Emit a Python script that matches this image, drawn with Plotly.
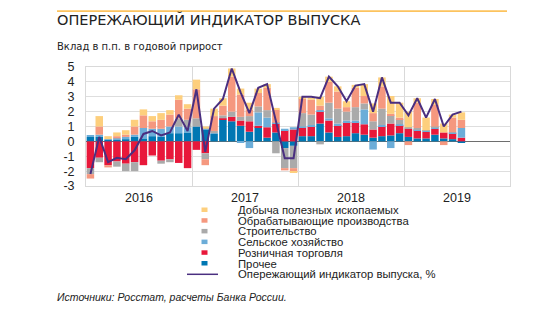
import plotly.graph_objects as go

# ---------------- data ----------------
months = ["2016-01","2016-02","2016-03","2016-04","2016-05","2016-06","2016-07","2016-08","2016-09","2016-10","2016-11","2016-12",
          "2017-01","2017-02","2017-03","2017-04","2017-05","2017-06","2017-07","2017-08","2017-09","2017-10","2017-11","2017-12",
          "2018-01","2018-02","2018-03","2018-04","2018-05","2018-06","2018-07","2018-08","2018-09","2018-10","2018-11","2018-12",
          "2019-01","2019-02","2019-03","2019-04","2019-05","2019-06","2019-07"]

prochee = [0.3,0.3,0.1,0.1,0.15,0.3,0.2,0.35,0.3,0.55,0.55,0.6,
           1.0,0.8,0.5,1.45,1.35,1.05,0.65,0.95,0.25,0.6,-0.45,-0.3,
           0.35,0.35,1.2,0.6,0.3,0.35,0.55,0.45,0.25,0.35,0.4,0.55,
           0.3,0.2,0.2,0.45,0.2,0.15,-0.05]
retail = [-1.8,-1.1,-1.6,-1.35,-1.5,-1.4,-1.6,-0.95,-1.3,-1.2,-1.45,-1.8,
          -0.57,-0.8,0.0,0.1,0.3,0.35,0.7,0.1,0.7,0.6,0.75,0.8,
          0.6,0.65,0.8,0.8,0.8,0.95,0.75,0.7,0.55,0.65,0.8,0.55,
          0.55,0.55,0.45,0.4,0.4,0.4,0.25]
agri = [0.07,0.15,0.05,0.1,0.15,0.15,0.7,0.5,0.55,0.45,0.45,0.35,
        0.0,0.05,0.05,0.0,0.0,-0.1,-0.45,0.9,0.65,0.05,0.1,0.15,
        0.05,0.1,0.1,0.15,0.1,0.1,0.1,1.0,-0.55,0.1,-0.45,0.05,
        0.0,0.05,0.05,0.05,0.0,0.05,0.65]
constr = [-0.4,-0.3,0.0,-0.35,-0.5,-0.6,0.0,0.0,-0.2,-0.2,0.55,0.5,
          0.55,-0.4,0.15,0.2,0.35,0.25,0.35,0.4,0.5,-0.8,-1.35,-1.5,
          0.9,0.7,-0.2,1.05,1.0,0.6,0.9,0.4,0.55,1.1,0.55,0.35,
          0.1,0.1,0.05,0.1,0.0,0.0,0.0]
manuf = [-0.3,0.55,-0.15,0.15,0.15,0.55,0.85,0.5,0.6,0.8,1.25,0.75,
         1.95,-0.4,1.0,0.65,2.35,1.5,0.45,0.9,1.5,0.9,-0.15,-0.25,
         1.0,1.0,0.3,1.4,1.15,0.3,1.3,0.5,0.55,1.5,0.1,0.1,
         -0.25,1.7,0.0,1.45,-0.25,1.0,0.55]
mining = [0.0,0.7,0.2,0.25,0.3,0.45,0.4,0.35,0.45,0.3,0.3,0.3,
          0.65,0.15,0.5,0.5,0.55,0.4,0.45,0.3,0.25,0.1,0.0,-0.05,
          0.1,0.15,0.6,0.35,0.35,0.4,0.2,0.8,0.65,0.6,1.2,1.0,
          1.05,0.3,0.85,0.4,0.6,0.2,0.5]
indicator = [-2.2,0.3,-1.4,-1.1,-1.2,-0.6,0.5,0.7,0.4,0.6,1.8,0.7,
             3.5,-0.7,2.2,2.85,4.9,3.3,1.9,3.6,3.85,1.45,-1.13,-1.13,
             3.0,3.0,2.9,4.35,3.7,2.7,3.75,3.85,2.0,4.3,2.6,2.6,
             1.75,2.9,1.6,2.85,1.0,1.8,2.0]

year_labels = ["2016", "2017", "2018", "2019"]
y_ticks = [5, 4, 3, 2, 1, 0, -1, -2, -3]
y_tick_labels = ["5", "4", "3", "2", "1", "0", "-1", "-2", "-3"]

series_names = ["Прочее", "Розничная торговля", "Сельское хозяйство",
                "Строительство", "Обрабатывающие производства", "Добыча полезных ископаемых"]
line_name = "Опережающий индикатор выпуска, %"
title_text = "ОПЕРЕЖАЮЩИЙ ИНДИКАТОР ВЫПУСКА"
subtitle_text = "Вклад в п.п. в годовой прирост"
source_text = "Источники: Росстат, расчеты Банка России."

# ---------------- styling ----------------
colors = ["#0077B3", "#E8183A", "#6CADD8", "#AAAAAA", "#F5987F", "#FDCF7D"]
line_color = "#4A2F80"
FONT = "Liberation Sans, Arial, sans-serif"
FONT_T = "DejaVu Sans, Liberation Sans, sans-serif"

OFF = 8                      # page body margin
W, H = 535 - OFF, 313 - OFF
L = 86 - OFF
T = 67 - OFF
R = W - (510 - OFF)
B = H - (186 - OFF)
PW, PH = W - L - R, H - T - B


def px(x):
    """screen x -> paper"""
    return (x - OFF - L) / PW


def py(y):
    """screen y -> paper"""
    return (H - B - (y - OFF)) / PH


x = list(range(len(months)))
series = [prochee, retail, agri, constr, manuf, mining]

fig = go.Figure()
for name, vals, col in zip(series_names, series, colors):
    fig.add_trace(go.Bar(x=x, y=vals, name=name, marker=dict(color=col, line=dict(width=0)),
                         width=0.85, showlegend=False))
fig.add_trace(go.Scatter(x=x, y=indicator, name=line_name, mode="lines",
                         line=dict(color=line_color, width=2), showlegend=False))

n_years = len(year_labels)
fig.update_layout(
    width=W, height=H, margin=dict(l=L, r=R, t=T, b=B, pad=0),
    paper_bgcolor="white", plot_bgcolor="white",
    barmode="relative", showlegend=False,
    font=dict(family=FONT, size=12, color="#222"),
    xaxis=dict(range=[-0.5, 12 * n_years - 0.5],
               tickvals=[5.5 + 12 * i for i in range(n_years)], ticktext=year_labels,
               showgrid=False, zeroline=False, ticks="", ticklen=0,
               showline=True, mirror=True, linecolor="#d9d9d9", linewidth=1,
               tickfont=dict(size=12.5, color="#222"), ticklabelstandoff=0,
               minor=dict(tickvals=[11.5 + 12 * i for i in range(n_years - 1)],
                          showgrid=True, gridcolor="#d9d9d9", gridwidth=1, ticks="")),
    yaxis=dict(range=[-3, 5], tickvals=y_ticks, ticktext=y_tick_labels,
               showgrid=True, gridcolor="#dedede", gridwidth=1,
               zeroline=True, zerolinecolor="#6e6e6e", zerolinewidth=1,
               showline=True, mirror=True, linecolor="#d9d9d9", linewidth=1,
               ticks="", ticklen=0, tickfont=dict(size=12.5, color="#222"), ticklabelstandoff=8),
)

shapes = []
annotations = []
# top rule
shapes.append(dict(type="rect", xref="paper", yref="paper", layer="above",
                   x0=px(57), x1=px(507), y0=py(12), y1=py(10.2),
                   fillcolor="#FCC35E", line=dict(width=0)))
annotations.append(dict(xref="paper", yref="paper", x=px(55), y=py(19.5), text=title_text, showarrow=False,
                        xanchor="left", yanchor="middle", font=dict(size=14.5, color="#222", family=FONT_T)))
annotations.append(dict(xref="paper", yref="paper", x=px(55), y=py(47), text=subtitle_text, showarrow=False,
                        xanchor="left", yanchor="middle", font=dict(size=10, color="#222", family=FONT_T)))
annotations.append(dict(xref="paper", yref="paper", x=px(55), y=py(297), text="<i>" + source_text + "</i>",
                        showarrow=False, xanchor="left", yanchor="middle",
                        font=dict(size=10.5, color="#222", family=FONT)))

# manual legend (top to bottom: reverse stacking order, then line)
leg_rows_y = [210, 220.7, 231.4, 242.1, 252.8, 263.5]
for i, idx in enumerate(range(len(series_names) - 1, -1, -1)):
    yy = leg_rows_y[i]
    shapes.append(dict(type="rect", xref="paper", yref="paper", x0=px(201.5), x1=px(207.5),
                       y0=py(yy + 2), y1=py(yy - 2.5), fillcolor=colors[idx], line=dict(width=0)))
    annotations.append(dict(xref="paper", yref="paper", x=px(236), y=py(yy), text=series_names[idx],
                            showarrow=False, xanchor="left", yanchor="middle",
                            font=dict(size=11.3, color="#222", family=FONT)))
shapes.append(dict(type="line", xref="paper", yref="paper", x0=px(187), x1=px(218), y0=py(274.3), y1=py(274.3),
                   line=dict(color=line_color, width=1.5)))
annotations.append(dict(xref="paper", yref="paper", x=px(236), y=py(274.3), text=line_name,
                        showarrow=False, xanchor="left", yanchor="middle",
                        font=dict(size=11.3, color="#222", family=FONT)))

fig.update_layout(shapes=shapes, annotations=annotations)
fig.write_html("out.html")
